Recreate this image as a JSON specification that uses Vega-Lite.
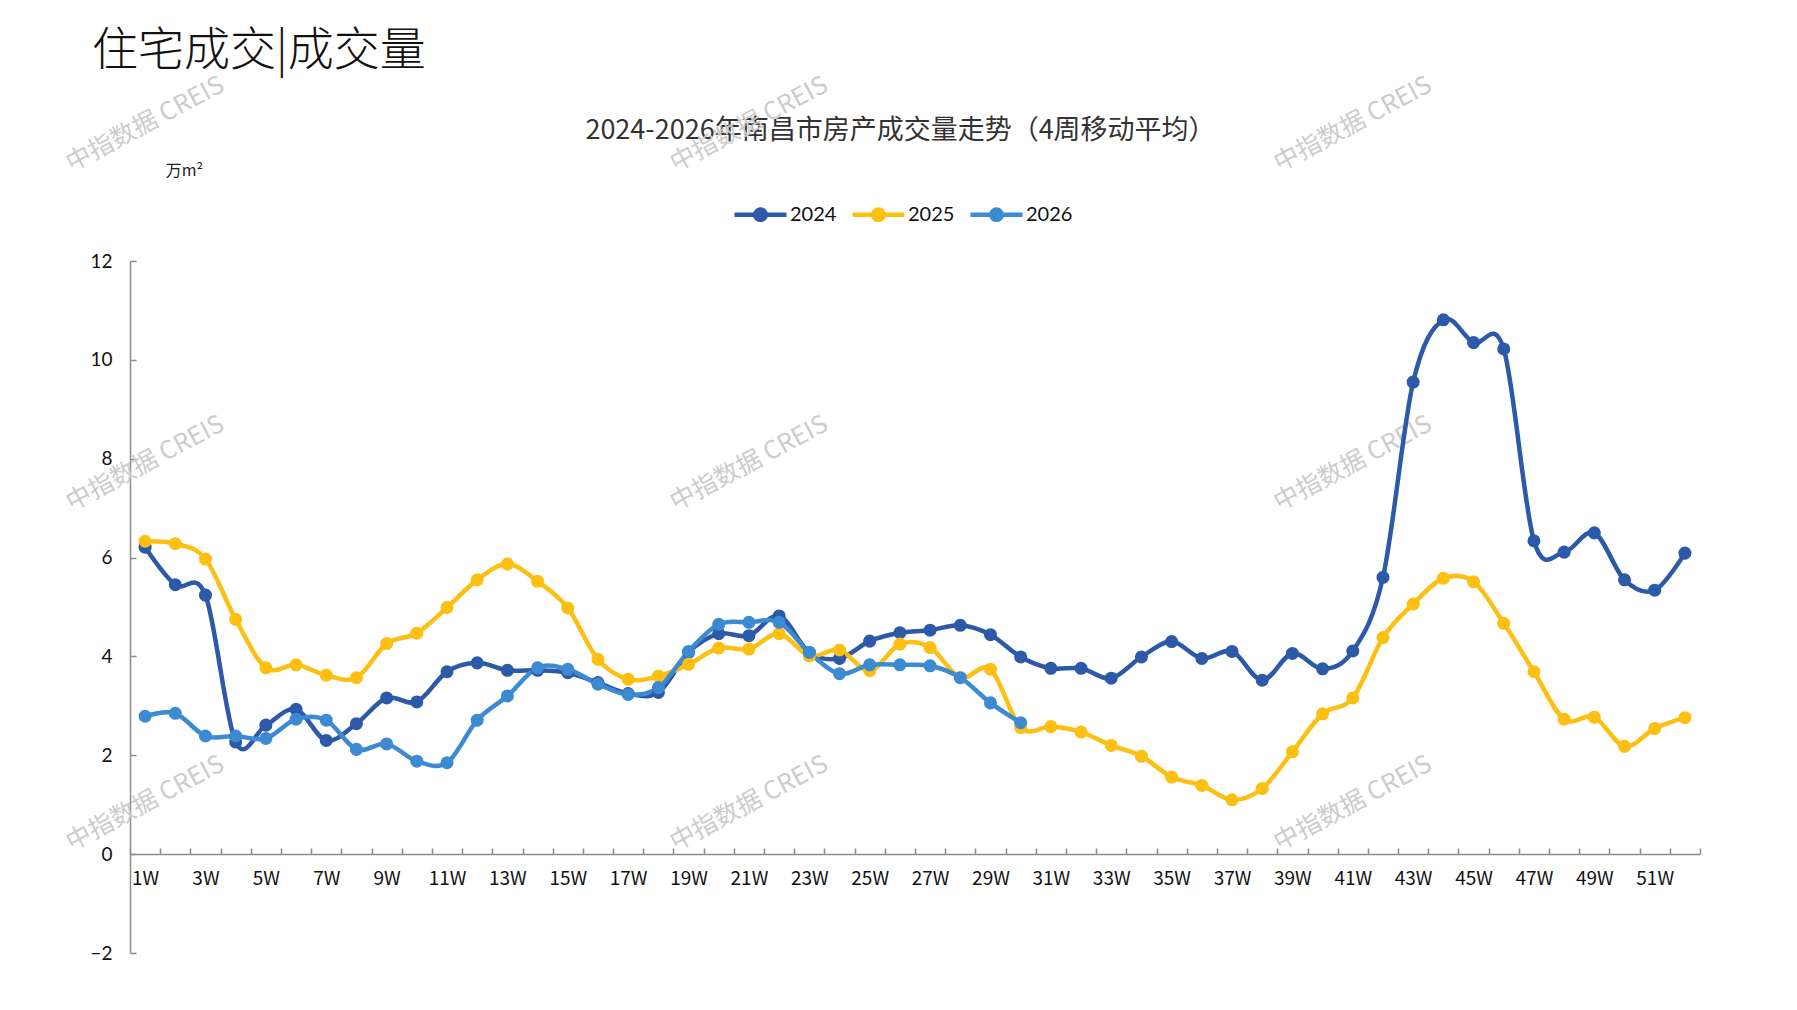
{
  "$schema": "https://vega.github.io/schema/vega-lite/v6.json",
  "width": 1570,
  "height": 692,
  "autosize": {"type": "none"},
  "padding": {"left": 130, "top": 261, "right": 97, "bottom": 57},
  "background": "white",
  "config": {"view": {"stroke": null}},
  "title": {
    "text": "住宅成交|成交量",
    "anchor": "start",
    "frame": "group",
    "dx": -38,
    "offset": -2,
    "font": "Noto Sans CJK SC",
    "fontSize": 46,
    "fontWeight": 300,
    "color": "#111111"
  },
  "datasets": {
    "marks": [
      {"week": "1W", "value": 14.77, "label": "中指数据 CREIS"},
      {"week": "21W", "value": 14.77, "label": "中指数据 CREIS"},
      {"week": "41W", "value": 14.77, "label": "中指数据 CREIS"},
      {"week": "1W", "value": 7.91, "label": "中指数据 CREIS"},
      {"week": "21W", "value": 7.91, "label": "中指数据 CREIS"},
      {"week": "41W", "value": 7.91, "label": "中指数据 CREIS"},
      {"week": "1W", "value": 1.03, "label": "中指数据 CREIS"},
      {"week": "21W", "value": 1.03, "label": "中指数据 CREIS"},
      {"week": "41W", "value": 1.03, "label": "中指数据 CREIS"}
    ],
    "series": [
      {"year": "2024", "week": "1W", "value": 6.21},
      {"year": "2024", "week": "2W", "value": 5.45},
      {"year": "2024", "week": "3W", "value": 5.24},
      {"year": "2024", "week": "4W", "value": 2.27},
      {"year": "2024", "week": "5W", "value": 2.61},
      {"year": "2024", "week": "6W", "value": 2.93},
      {"year": "2024", "week": "7W", "value": 2.30},
      {"year": "2024", "week": "8W", "value": 2.64},
      {"year": "2024", "week": "9W", "value": 3.16},
      {"year": "2024", "week": "10W", "value": 3.08},
      {"year": "2024", "week": "11W", "value": 3.69},
      {"year": "2024", "week": "12W", "value": 3.87},
      {"year": "2024", "week": "13W", "value": 3.72},
      {"year": "2024", "week": "14W", "value": 3.72},
      {"year": "2024", "week": "15W", "value": 3.67},
      {"year": "2024", "week": "16W", "value": 3.47},
      {"year": "2024", "week": "17W", "value": 3.25},
      {"year": "2024", "week": "18W", "value": 3.27},
      {"year": "2024", "week": "19W", "value": 4.08},
      {"year": "2024", "week": "20W", "value": 4.46},
      {"year": "2024", "week": "21W", "value": 4.42},
      {"year": "2024", "week": "22W", "value": 4.82},
      {"year": "2024", "week": "23W", "value": 4.08},
      {"year": "2024", "week": "24W", "value": 3.96},
      {"year": "2024", "week": "25W", "value": 4.31},
      {"year": "2024", "week": "26W", "value": 4.48},
      {"year": "2024", "week": "27W", "value": 4.53},
      {"year": "2024", "week": "28W", "value": 4.63},
      {"year": "2024", "week": "29W", "value": 4.44},
      {"year": "2024", "week": "30W", "value": 3.99},
      {"year": "2024", "week": "31W", "value": 3.76},
      {"year": "2024", "week": "32W", "value": 3.76},
      {"year": "2024", "week": "33W", "value": 3.56},
      {"year": "2024", "week": "34W", "value": 3.99},
      {"year": "2024", "week": "35W", "value": 4.30},
      {"year": "2024", "week": "36W", "value": 3.96},
      {"year": "2024", "week": "37W", "value": 4.10},
      {"year": "2024", "week": "38W", "value": 3.52},
      {"year": "2024", "week": "39W", "value": 4.06},
      {"year": "2024", "week": "40W", "value": 3.75},
      {"year": "2024", "week": "41W", "value": 4.11},
      {"year": "2024", "week": "42W", "value": 5.60},
      {"year": "2024", "week": "43W", "value": 9.55},
      {"year": "2024", "week": "44W", "value": 10.81},
      {"year": "2024", "week": "45W", "value": 10.35},
      {"year": "2024", "week": "46W", "value": 10.22},
      {"year": "2024", "week": "47W", "value": 6.34},
      {"year": "2024", "week": "48W", "value": 6.11},
      {"year": "2024", "week": "49W", "value": 6.50},
      {"year": "2024", "week": "50W", "value": 5.55},
      {"year": "2024", "week": "51W", "value": 5.34},
      {"year": "2024", "week": "52W", "value": 6.09},
      {"year": "2025", "week": "1W", "value": 6.33},
      {"year": "2025", "week": "2W", "value": 6.28},
      {"year": "2025", "week": "3W", "value": 5.97},
      {"year": "2025", "week": "4W", "value": 4.75},
      {"year": "2025", "week": "5W", "value": 3.77},
      {"year": "2025", "week": "6W", "value": 3.83},
      {"year": "2025", "week": "7W", "value": 3.62},
      {"year": "2025", "week": "8W", "value": 3.57},
      {"year": "2025", "week": "9W", "value": 4.26},
      {"year": "2025", "week": "10W", "value": 4.47},
      {"year": "2025", "week": "11W", "value": 4.99},
      {"year": "2025", "week": "12W", "value": 5.55},
      {"year": "2025", "week": "13W", "value": 5.87},
      {"year": "2025", "week": "14W", "value": 5.52},
      {"year": "2025", "week": "15W", "value": 4.98},
      {"year": "2025", "week": "16W", "value": 3.94},
      {"year": "2025", "week": "17W", "value": 3.54},
      {"year": "2025", "week": "18W", "value": 3.60},
      {"year": "2025", "week": "19W", "value": 3.84},
      {"year": "2025", "week": "20W", "value": 4.17},
      {"year": "2025", "week": "21W", "value": 4.15},
      {"year": "2025", "week": "22W", "value": 4.46},
      {"year": "2025", "week": "23W", "value": 4.01},
      {"year": "2025", "week": "24W", "value": 4.13},
      {"year": "2025", "week": "25W", "value": 3.71},
      {"year": "2025", "week": "26W", "value": 4.25},
      {"year": "2025", "week": "27W", "value": 4.18},
      {"year": "2025", "week": "28W", "value": 3.57},
      {"year": "2025", "week": "29W", "value": 3.74},
      {"year": "2025", "week": "30W", "value": 2.56},
      {"year": "2025", "week": "31W", "value": 2.58},
      {"year": "2025", "week": "32W", "value": 2.47},
      {"year": "2025", "week": "33W", "value": 2.20},
      {"year": "2025", "week": "34W", "value": 1.98},
      {"year": "2025", "week": "35W", "value": 1.56},
      {"year": "2025", "week": "36W", "value": 1.39},
      {"year": "2025", "week": "37W", "value": 1.10},
      {"year": "2025", "week": "38W", "value": 1.33},
      {"year": "2025", "week": "39W", "value": 2.07},
      {"year": "2025", "week": "40W", "value": 2.84},
      {"year": "2025", "week": "41W", "value": 3.16},
      {"year": "2025", "week": "42W", "value": 4.38},
      {"year": "2025", "week": "43W", "value": 5.06},
      {"year": "2025", "week": "44W", "value": 5.58},
      {"year": "2025", "week": "45W", "value": 5.51},
      {"year": "2025", "week": "46W", "value": 4.67},
      {"year": "2025", "week": "47W", "value": 3.69},
      {"year": "2025", "week": "48W", "value": 2.73},
      {"year": "2025", "week": "49W", "value": 2.77},
      {"year": "2025", "week": "50W", "value": 2.18},
      {"year": "2025", "week": "51W", "value": 2.54},
      {"year": "2025", "week": "52W", "value": 2.76},
      {"year": "2026", "week": "1W", "value": 2.79},
      {"year": "2026", "week": "2W", "value": 2.85},
      {"year": "2026", "week": "3W", "value": 2.39},
      {"year": "2026", "week": "4W", "value": 2.39},
      {"year": "2026", "week": "5W", "value": 2.34},
      {"year": "2026", "week": "6W", "value": 2.73},
      {"year": "2026", "week": "7W", "value": 2.71},
      {"year": "2026", "week": "8W", "value": 2.12},
      {"year": "2026", "week": "9W", "value": 2.23},
      {"year": "2026", "week": "10W", "value": 1.88},
      {"year": "2026", "week": "11W", "value": 1.85},
      {"year": "2026", "week": "12W", "value": 2.71},
      {"year": "2026", "week": "13W", "value": 3.20},
      {"year": "2026", "week": "14W", "value": 3.77},
      {"year": "2026", "week": "15W", "value": 3.74},
      {"year": "2026", "week": "16W", "value": 3.44},
      {"year": "2026", "week": "17W", "value": 3.23},
      {"year": "2026", "week": "18W", "value": 3.37},
      {"year": "2026", "week": "19W", "value": 4.10},
      {"year": "2026", "week": "20W", "value": 4.65},
      {"year": "2026", "week": "21W", "value": 4.69},
      {"year": "2026", "week": "22W", "value": 4.69},
      {"year": "2026", "week": "23W", "value": 4.08},
      {"year": "2026", "week": "24W", "value": 3.65},
      {"year": "2026", "week": "25W", "value": 3.83},
      {"year": "2026", "week": "26W", "value": 3.83},
      {"year": "2026", "week": "27W", "value": 3.81},
      {"year": "2026", "week": "28W", "value": 3.57},
      {"year": "2026", "week": "29W", "value": 3.06},
      {"year": "2026", "week": "30W", "value": 2.66}
    ]
  },
  "encoding": {
    "x": {
      "field": "week",
      "type": "ordinal",
      "scale": {
        "type": "band",
        "paddingInner": 0,
        "paddingOuter": 0,
        "domain": ["1W","2W","3W","4W","5W","6W","7W","8W","9W","10W","11W","12W","13W","14W","15W","16W","17W","18W","19W","20W","21W","22W","23W","24W","25W","26W","27W","28W","29W","30W","31W","32W","33W","34W","35W","36W","37W","38W","39W","40W","41W","42W","43W","44W","45W","46W","47W","48W","49W","50W","51W","52W"]
      },
      "axis": {
        "title": "2024-2026年南昌市房产成交量走势（4周移动平均）",
        "titleX": 770,
        "titleY": -724,
        "titleAlign": "center",
        "titleBaseline": "middle",
        "titleFont": "Noto Sans CJK SC",
        "titleFontSize": 27,
        "titleFontWeight": "normal",
        "titleColor": "#333333",
        "offset": -99,
        "tickBand": "extent",
        "tickSize": -6,
        "tickColor": "#8c8c8c",
        "tickWidth": 1.5,
        "domainColor": "#8c8c8c",
        "domainWidth": 1.5,
        "labelAngle": 0,
        "labelFont": "Noto Sans CJK SC",
        "labelFontSize": 19,
        "labelColor": "#111111",
        "labelPadding": 21,
        "labelOverlap": false,
        "labelExpr": "parseInt(datum.label) % 2 == 1 ? datum.label : ''",
        "grid": false
      }
    },
    "y": {
      "field": "value",
      "type": "quantitative",
      "scale": {"domain": [-2, 12], "nice": false, "zero": false},
      "axis": {
        "title": "万m²",
        "titleAngle": 0,
        "titleX": 54,
        "titleY": -91,
        "titleAlign": "center",
        "titleBaseline": "middle",
        "titleFont": "Noto Sans CJK SC",
        "titleFontSize": 16,
        "titleFontWeight": "normal",
        "titleColor": "#222222",
        "values": [-2, 0, 2, 4, 6, 8, 10, 12],
        "tickSize": -6,
        "tickColor": "#8c8c8c",
        "tickWidth": 1.5,
        "domainColor": "#8c8c8c",
        "domainWidth": 1.5,
        "labelFont": "Lato",
        "labelFontSize": 19,
        "labelColor": "#111111",
        "labelPadding": 24,
        "grid": false
      }
    }
  },
  "layer": [
    {
      "data": {"name": "marks"},
      "mark": {"type": "text", "angle": -28, "font": "Noto Sans CJK SC", "fontSize": 25, "color": "#cccccc", "align": "center", "baseline": "middle"},
      "encoding": {"text": {"field": "label"}}
    },
    {
      "data": {"name": "series"},
      "mark": {
        "type": "line",
        "interpolate": "cardinal",
        "strokeWidth": 4.5,
        "strokeCap": "round",
        "strokeJoin": "round",
        "point": {"filled": true, "size": 170, "opacity": 1}
      },
      "encoding": {
        "color": {
          "field": "year",
          "type": "nominal",
          "scale": {"domain": ["2024", "2025", "2026"], "range": ["#2C5AA8", "#FCBF12", "#3C8BD2"]},
          "legend": {
            "title": null,
            "orient": "none",
            "legendX": 602,
            "legendY": -75,
            "direction": "horizontal",
            "symbolType": "M-1,0L1,0M0.2,0A0.2,0.2,0,1,1,-0.2,0A0.2,0.2,0,1,1,0.2,0",
            "symbolSize": 2704,
            "symbolStrokeWidth": 4.5,
            "labelFont": "Lato",
            "labelFontSize": 20,
            "labelColor": "#111111",
            "labelOffset": 1,
            "columnPadding": 6,
            "encode": {
              "symbols": {
                "update": {
                  "fill": {"scale": "color", "field": "value"},
                  "stroke": {"scale": "color", "field": "value"},
                  "opacity": {"value": 1}
                }
              }
            }
          }
        }
      }
    }
  ]
}
